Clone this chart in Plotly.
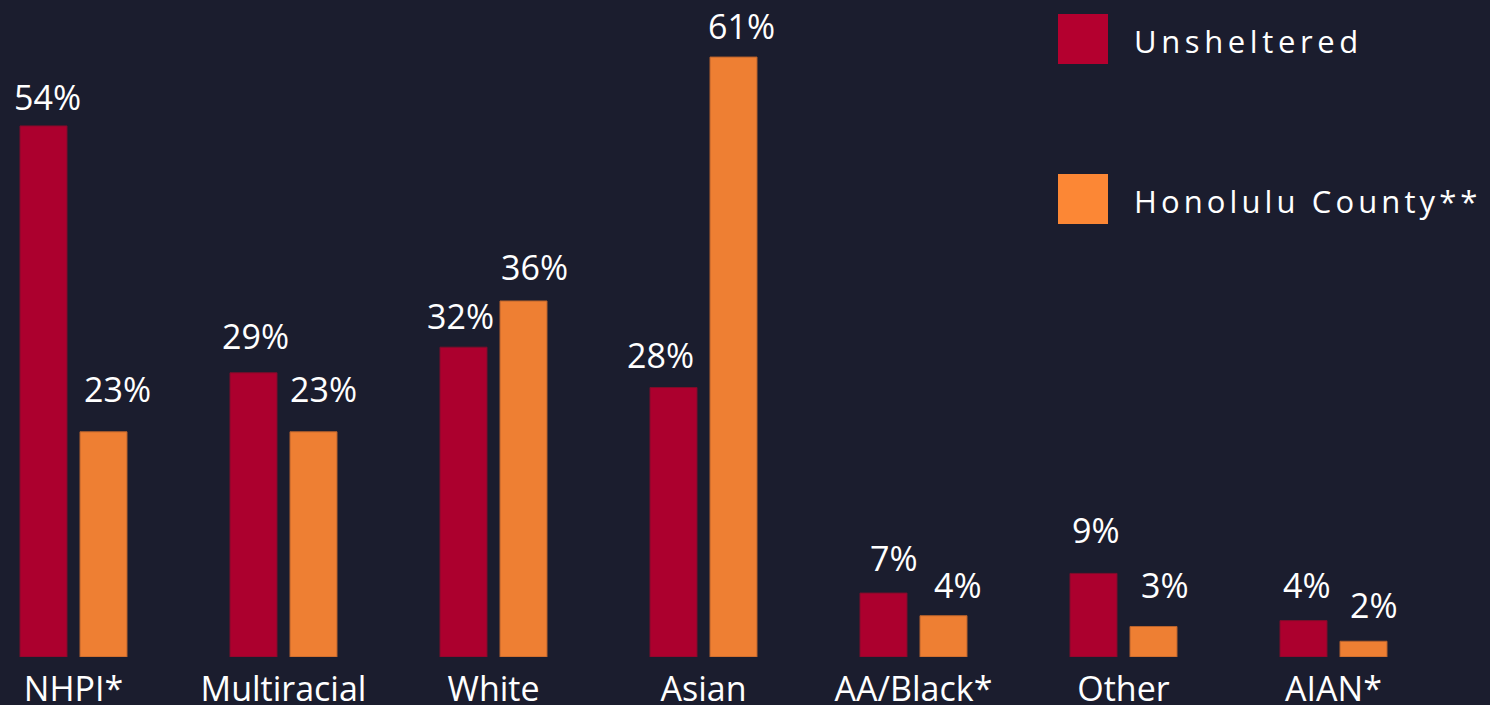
import plotly.graph_objects as go

# ---- data ----
categories = ["NHPI*", "Multiracial", "White", "Asian", "AA/Black*", "Other", "AIAN*"]
unsheltered = [54.0, 28.9, 31.5, 27.4, 6.5, 8.5, 3.7]
honolulu = [22.9, 22.9, 36.2, 61.0, 4.2, 3.1, 1.6]
unsheltered_labels = ["54%", "29%", "32%", "28%", "7%", "9%", "4%"]
honolulu_labels = ["23%", "23%", "36%", "61%", "4%", "3%", "2%"]
series_names = ["Unsheltered", "Honolulu County**"]

# ---- style ----
BG = "#1b1d2e"
RED = "#ac002e"
ORANGE = "#ee7f33"
LEG_RED = "#b4002f"
LEG_ORANGE = "#fc8735"
FONT = "Open Sans"
W, H = 1490, 705
PLOT_H = 657
PX_PER_CAT = 210

# label offsets (px) relative to bar centre / bar top
red_dx = [3.5, 1.5, -3, -13, 10, 2.5, 3.5]
red_dy = [29, 37, 31, 33, 35.5, 43.5, 36]
org_dx = [14, 10, 10.5, 7.5, 14.5, 11, 10]
org_dy = [42.5, 42.5, 34, 31.5, 30.5, 41.5, 36]

fig = go.Figure()
fig.add_trace(go.Bar(x=categories, y=unsheltered, name=series_names[0],
                     marker=dict(color=RED, line=dict(color="#7e0d2a", width=1)),
                     showlegend=False, hoverinfo="skip"))
fig.add_trace(go.Bar(x=categories, y=honolulu, name=series_names[1],
                     marker=dict(color=ORANGE, line=dict(color="#b8622c", width=1)),
                     showlegend=False, hoverinfo="skip"))

lab_font = dict(family=FONT, size=34, color="white", weight=500)
annotations = []
for i, c in enumerate(categories):
    annotations.append(dict(x=c, y=unsheltered[i], xref="x", yref="y", text=unsheltered_labels[i],
                            showarrow=False, xshift=-30 + red_dx[i], yshift=red_dy[i],
                            yanchor="middle", font=lab_font))
    annotations.append(dict(x=c, y=honolulu[i], xref="x", yref="y", text=honolulu_labels[i],
                            showarrow=False, xshift=30 + org_dx[i], yshift=org_dy[i],
                            yanchor="middle", font=lab_font))

# manual legend
leg = [(series_names[0], LEG_RED, 14), (series_names[1], LEG_ORANGE, 174)]
shapes = []
for name, col, top in leg:
    shapes.append(dict(type="rect", xref="paper", yref="paper",
                       x0=1058 / W, x1=1108 / W, y0=1 - (top + 50) / PLOT_H, y1=1 - top / PLOT_H,
                       fillcolor=col, line=dict(width=0)))
    annotations.append(dict(x=1132 / W, y=1 - (top + 27) / PLOT_H, xref="paper", yref="paper",
                            text=name, showarrow=False, xanchor="left", yanchor="middle", align="left",
                            font=dict(family=FONT, size=31, color="white", weight=500)))

fig.update_layout(
    width=W, height=H,
    paper_bgcolor=BG, plot_bgcolor=BG,
    margin=dict(l=0, r=0, t=0, b=H - PLOT_H, autoexpand=False),
    barmode="group", bargap=0.4286, bargroupgap=0.2167,
    xaxis=dict(range=[-73.5 / PX_PER_CAT, (W - 73.5) / PX_PER_CAT], showgrid=False, zeroline=False,
               showline=False, ticks="", tickfont=dict(family=FONT, size=34, color="white", weight=500),
               ticklabelstandoff=9, automargin=False, fixedrange=True),
    yaxis=dict(range=[0, PLOT_H / 9.835], visible=False, fixedrange=True),
    annotations=annotations, shapes=shapes,
    font=dict(family=FONT, color="white"),
)

post = """
document.documentElement.style.margin = '0';
document.body.style.margin = '0';
document.body.style.padding = '0';
document.body.style.background = '#1b1d2e';
var gd = document.getElementById('{plot_id}');
gd.querySelectorAll('.annotation-text').forEach(function(t){
  var s = t.textContent;
  if (s === 'Unsheltered') { t.style.letterSpacing = '4.6px'; }
  if (s === 'Honolulu County**') { t.style.letterSpacing = '4.1px'; }
});
"""
fig.write_html("out.html", post_script=post, config={"displayModeBar": False})
